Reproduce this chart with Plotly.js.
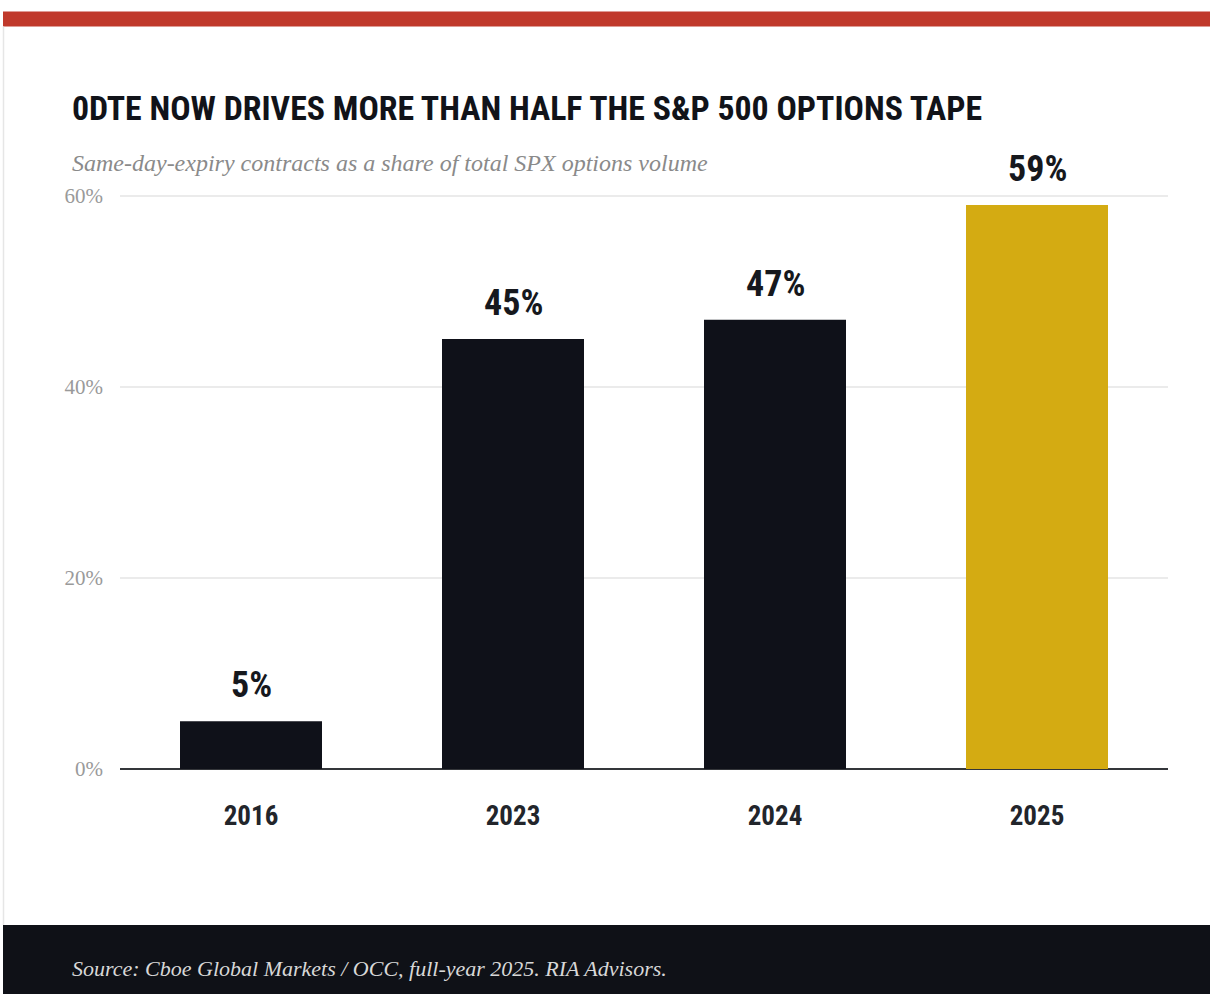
<!DOCTYPE html>
<html>
<head>
<meta charset="utf-8">
<script src="https://cdn.plot.ly/plotly-3.0.1.min.js"></script>
<style>html,body{margin:0;padding:0;background:#fff;}#chart{width:1210px;height:994px;}</style>
</head>
<body>
<div id="chart"></div>
<script>
const years = ['2016', '2023', '2024', '2025'];
const shares = [5, 45, 47, 59];
const barColors = ['#0f1119', '#0f1119', '#0f1119', '#d4ab12'];
const yTickVals = [0, 20, 40, 60];
const yTickText = ['0%', '20%', '40%', '60%'];

const titleText = '0DTE NOW DRIVES MORE THAN HALF THE S&P 500 OPTIONS TAPE';
const subtitleText = 'Same-day-expiry contracts as a share of total SPX options volume';
const sourceText = 'Source: Cboe Global Markets / OCC, full-year 2025. RIA Advisors.';

const narrow = '"Liberation Sans Narrow", "Roboto Condensed", "Arial Narrow", sans-serif';
const serif = '"Liberation Serif", "DejaVu Serif", serif';

const W = 1210, H = 994, L = 120, R = 42, B = 225;
const yMax = 61;
const pxPerUnit = 573 / 60;
const ph = pxPerUnit * yMax;
const T = H - B - ph;
const pw = W - L - R;
const px = x => (x - L) / pw;
const py = y => (H - B - y) / ph;

const trace = {
  type: 'bar',
  x: years,
  y: shares,
  marker: {color: barColors, line: {width: 0}},
  hoverinfo: 'skip',
  cliponaxis: false
};

const labelAnns = years.map((yr, i) => ({
  x: i, y: shares[i], xref: 'x', yref: 'y',
  text: shares[i] + '%', showarrow: false,
  yanchor: 'bottom', yshift: 13,
  font: {family: narrow, size: 36, color: '#16181d', weight: 700}
}));

const layout = {
  width: W, height: H,
  margin: {l: L, r: R, t: T, b: B, pad: 0},
  paper_bgcolor: '#ffffff',
  plot_bgcolor: '#ffffff',
  showlegend: false,
  bargap: 0.458,
  title: {
    text: '<b>' + titleText + '</b>',
    x: 72 / W, xref: 'container', xanchor: 'left',
    y: 1 - 108 / H, yref: 'container', yanchor: 'middle',
    font: {family: narrow, size: 33.8, color: '#111319'}
  },
  xaxis: {
    type: 'category',
    categoryorder: 'array', categoryarray: years,
    range: [-0.5, years.length - 0.5],
    showgrid: false, zeroline: false, showline: false,
    ticks: '', ticklabelstandoff: 28,
    tickfont: {family: narrow, size: 27, color: '#22252b', weight: 700},
    fixedrange: true
  },
  yaxis: {
    range: [0, yMax],
    tickvals: yTickVals, ticktext: yTickText,
    showgrid: true, gridcolor: '#ebebeb', gridwidth: 2,
    zeroline: true, zerolinecolor: '#34363a', zerolinewidth: 2.5,
    showline: false, ticks: '', ticklabelstandoff: 16,
    tickfont: {family: serif, size: 21, color: '#9a9a9a'},
    fixedrange: true
  },
  shapes: [
    {type: 'rect', xref: 'paper', yref: 'paper', x0: px(3), x1: px(1210), y0: py(27), y1: py(12), fillcolor: '#c0392b', line: {width: 0}, layer: 'above'},
    {type: 'line', xref: 'paper', yref: 'paper', x0: px(3.5), x1: px(3.5), y0: py(925), y1: py(27), line: {color: '#e6e6e6', width: 1.5}},
    {type: 'rect', xref: 'paper', yref: 'paper', x0: px(3), x1: px(1212), y0: py(996), y1: py(925), fillcolor: '#0f1117', line: {width: 0}, layer: 'above'}
  ],
  annotations: labelAnns.concat([
    {xref: 'paper', yref: 'paper', x: px(70), y: py(163), xanchor: 'left', yanchor: 'middle', showarrow: false,
     text: '<i>' + subtitleText + '</i>', font: {family: serif, size: 24, color: '#8a8a8a'}},
    {xref: 'paper', yref: 'paper', x: px(70), y: py(968), xanchor: 'left', yanchor: 'middle', showarrow: false,
     text: '<i>' + sourceText + '</i>', font: {family: serif, size: 22, color: '#d8d8d8'}}
  ])
};

Plotly.newPlot('chart', [trace], layout, {displayModeBar: false, staticPlot: true});
</script>
</body>
</html>
